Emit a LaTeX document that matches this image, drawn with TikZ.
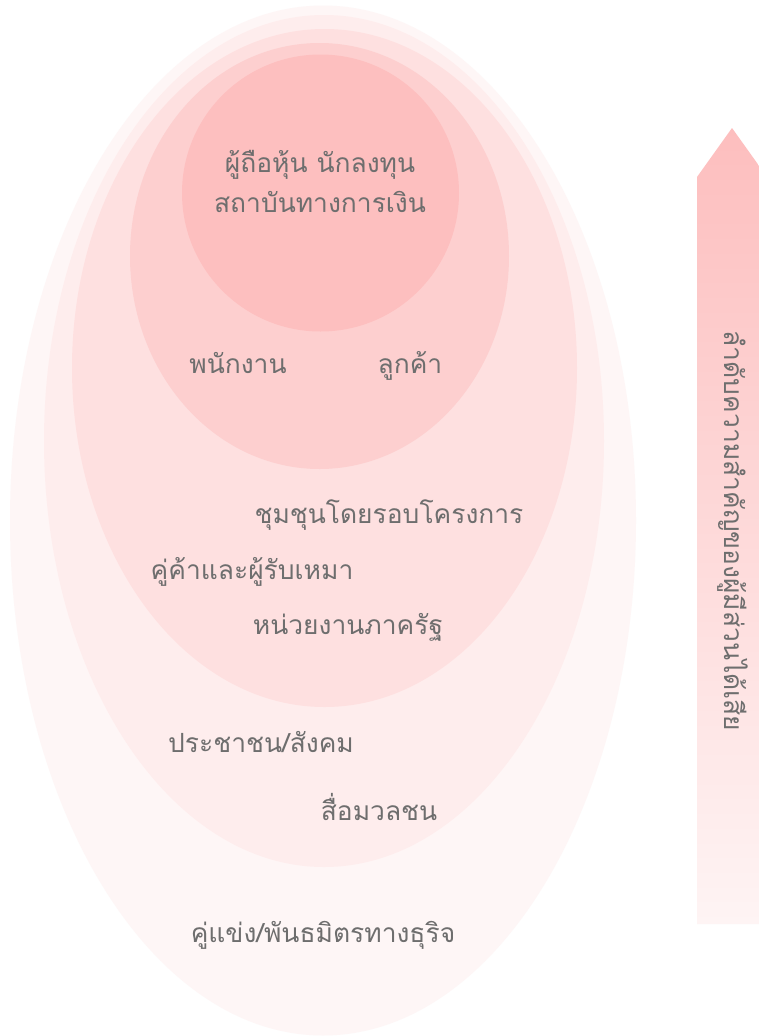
\documentclass[tikz,border=0pt]{standalone}
\usepackage{fontspec}
\newfontfamily\thaifont[Script=Thai]{Loma}
\definecolor{txt}{HTML}{6E6E6E}
\definecolor{lvA}{HTML}{FDBFBF}
\definecolor{lvB}{HTML}{FDCFCF}
\definecolor{lvC}{HTML}{FEE0E0}
\definecolor{lvD}{HTML}{FEEDED}
\definecolor{lvE}{HTML}{FEF6F6}
\definecolor{arTop}{HTML}{FDBEBE}
\definecolor{arBot}{HTML}{FEF4F4}
\begin{document}
\begin{tikzpicture}[x=1bp,y=-1bp,
  lbl/.style={text=txt, font=\thaifont\fontsize{26.5}{32}\selectfont, inner sep=0pt, anchor=base}]
\clip (0,0) rectangle (759,1036);
\fill[white] (0,0) rectangle (759,1036);
% nested ellipses
\fill[lvE] (323,520.5) ellipse [x radius=313, y radius=515];
\fill[lvD] (324,441) ellipse [x radius=280, y radius=426];
\fill[lvC] (324.5,368) ellipse [x radius=252.5, y radius=339];
\fill[lvB] (319.5,256) ellipse [x radius=189.5, y radius=213];
\fill[lvA] (320.5,193) circle [radius=138.5];
% arrow
\shade[top color=arTop, bottom color=arBot]
  (697,924) -- (697,177) -- (732,128) -- (767,177) -- (767,924) -- cycle;
% labels
\node[lbl] (a1) at (320,172) {ผู้ถือหุ้น นักลงทุน};
\node[lbl] (a2) at (320,212) {สถาบันทางการเงิน};
\node[lbl] (b1) at (238,373) {พนักงาน};
\node[lbl] (b2) at (410,373) {ลูกค้า};
\node[lbl] (c1) at (389,523) {ชุมชุนโดยรอบโครงการ};
\node[lbl] (c2) at (252,579) {คู่ค้าและผู้รับเหมา};
\node[lbl] (c3) at (348,634) {หน่วยงานภาครัฐ};
\node[lbl] (d1) at (261,752) {ประชาชน/สังคม};
\node[lbl] (d2) at (379,820) {สื่อมวลชน};
\node[lbl] (e1) at (323,942) {คู่แข่ง/พันธมิตรทางธุริจ};
\node[lbl, anchor=center, rotate=-90] (ar) at (733,531) {ลำดับความสำคัญของผู้มีส่วนได้เสีย};
\end{tikzpicture}
\end{document}
